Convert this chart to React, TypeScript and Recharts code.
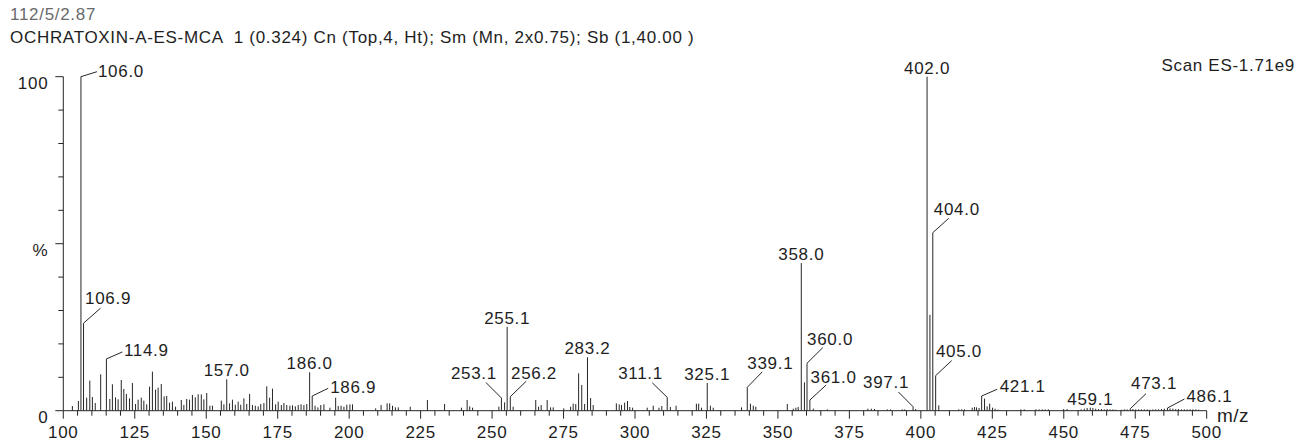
import React from "react";
import { ComposedChart, Bar, XAxis, YAxis } from "recharts";

const FONT = '"Liberation Sans", Arial, Helvetica, sans-serif';
const TEXT_COLOR = "#1e1e1e";
const LINE_COLOR = "#262626";
const FONT_SIZE = 17;
const CAP_HALF = (FONT_SIZE * 0.716) / 2;

// ---- data (m/z, relative intensity %) ----
const mzValues = [
  103.0, 105.1, 106.0, 106.9, 108.0, 109.1, 110.0, 111.0, 112.9, 114.9,
  116.1, 117.0, 118.1, 119.0, 120.1, 121.0, 121.9, 123.0, 124.0, 125.1,
  126.0, 127.1, 128.0, 129.0, 130.0, 131.0, 132.1, 133.0, 134.1, 135.1,
  136.0, 137.0, 138.0, 139.1, 141.1, 142.0, 143.0, 144.0, 145.0, 146.0,
  147.0, 148.1, 149.0, 150.0, 151.1, 152.0, 155.1, 156.0, 157.0, 158.0,
  159.0, 160.0, 161.0, 161.9, 163.0, 164.0, 165.0, 166.0, 167.0, 168.0,
  168.9, 170.0, 171.0, 172.0, 173.0, 174.1, 175.0, 176.1, 177.0, 178.0,
  179.1, 180.0, 181.0, 182.0, 183.0, 184.0, 185.0, 186.0, 186.9, 187.9,
  188.9, 189.9, 191.0, 193.1, 195.1, 196.0, 197.0, 198.0, 199.0, 200.1,
  201.0, 209.1, 211.0, 213.1, 214.0, 215.0, 216.0, 217.0, 221.2, 227.2,
  233.2, 239.1, 241.1, 242.0, 243.0, 252.2, 253.1, 254.2, 255.1, 256.2,
  257.2, 265.1, 266.1, 267.0, 269.1, 270.3, 271.2, 274.9, 277.3, 278.2,
  279.1, 280.1, 281.2, 282.2, 283.2, 284.3, 285.2, 293.3, 294.3, 295.1,
  296.2, 297.2, 298.0, 299.0, 304.1, 306.2, 308.2, 309.2, 311.1, 312.2,
  314.2, 321.3, 322.1, 323.1, 325.1, 326.2, 327.2, 337.1, 339.1, 340.2,
  341.2, 342.1, 353.1, 355.2, 356.1, 356.9, 358.0, 359.1, 360.0, 361.0,
  362.2, 367.1, 381.3, 382.5, 383.6, 388.1, 389.2, 393.3, 394.2, 397.1,
  398.0, 402.0, 403.0, 404.0, 405.0, 406.1, 413.1, 414.1, 415.1, 417.8,
  418.6, 419.3, 420.2, 421.1, 422.1, 423.0, 423.9, 424.9, 425.8, 426.8,
  434.8, 436.0, 440.1, 441.2, 442.3, 443.3, 444.4, 449.8, 451.0, 455.9,
  457.0, 458.0, 459.1, 460.0, 461.0, 462.0, 463.0, 464.0, 465.0, 466.0,
  467.0, 468.0, 470.0, 471.0, 472.0, 473.1, 474.0, 475.0, 476.0, 477.0,
  478.0, 479.0, 480.0, 481.0, 482.0, 483.0, 484.0, 485.0, 486.1, 487.0,
  488.0, 489.0, 490.0, 491.0, 492.0, 493.0, 494.0, 495.0, 496.0, 497.0,
];

const intensities = [
  1.4, 2.9, 100, 26.2, 3.9, 9.0, 4.1, 2.3, 10.9, 15.5,
  3.5, 7.9, 4.0, 3.4, 9.2, 6.5, 5.0, 3.7, 8.3, 2.0,
  3.3, 3.9, 3.0, 1.9, 7.2, 11.7, 6.3, 6.9, 8.0, 4.3,
  4.4, 2.4, 2.7, 1.2, 3.2, 1.7, 3.5, 3.3, 4.7, 4.0,
  4.9, 4.9, 3.4, 5.3, 1.5, 1.5, 3.0, 1.9, 9.4, 2.2,
  3.3, 1.8, 2.7, 1.8, 3.7, 2.0, 5.0, 1.7, 1.5, 1.3,
  2.0, 2.3, 7.3, 3.9, 6.6, 1.9, 2.7, 1.7, 2.3, 1.7,
  1.5, 1.6, 1.3, 1.7, 1.9, 1.7, 2.0, 11.5, 4.4, 1.5,
  1.0, 1.7, 1.9, 0.9, 3.9, 1.4, 1.5, 1.2, 1.8, 1.9,
  1.9, 0.7, 1.7, 2.2, 2.2, 1.5, 1.0, 1.0, 1.2, 3.2,
  2.0, 0.9, 3.2, 1.3, 0.9, 1.2, 3.8, 2.5, 25.1, 4.2,
  1.2, 3.2, 1.2, 1.7, 3.2, 1.0, 1.0, 0.7, 1.2, 2.1,
  2.0, 11.2, 7.7, 2.0, 16.0, 3.8, 1.7, 2.2, 1.9, 1.7,
  2.4, 2.9, 1.1, 0.9, 0.9, 1.5, 0.9, 1.4, 4.0, 1.1,
  1.5, 2.1, 2.1, 0.9, 8.3, 1.5, 0.9, 1.0, 7.0, 2.1,
  1.5, 1.2, 2.0, 0.6, 0.9, 1.1, 44.2, 8.5, 14.2, 3.2,
  0.6, 0.4, 0.6, 0.6, 0.5, 0.4, 0.4, 0.4, 0.4, 1.2,
  0.5, 100, 28.7, 53.3, 10.5, 1.6, 0.4, 0.4, 0.4, 0.9,
  1.1, 1.0, 0.8, 4.4, 3.6, 1.3, 2.1, 0.9, 0.6, 0.3,
  0.4, 0.4, 0.4, 0.4, 0.4, 0.4, 0.4, 0.5, 0.5, 0.4,
  0.6, 0.8, 0.9, 0.8, 0.6, 0.5, 0.5, 0.4, 0.5, 0.4,
  0.4, 0.3, 0.3, 0.4, 0.4, 0.6, 0.5, 0.4, 0.4, 0.4,
  0.4, 0.4, 0.3, 0.4, 0.4, 0.4, 0.5, 0.6, 0.8, 0.7,
  0.6, 0.5, 0.5, 0.4, 0.4, 0.4, 0.4, 0.4, 0.4, 0.3,
];

// labelled peaks
const peakLabelMz = [
  106.0, 106.9, 114.9, 157.0, 186.0, 186.9, 253.1, 255.1, 256.2, 283.2, 311.1, 325.1,
  339.1, 358.0, 360.0, 361.0, 397.1, 402.0, 404.0, 405.0, 421.1, 459.1, 473.1, 486.1,
];
const peakLabelText = [
  "106.0", "106.9", "114.9", "157.0", "186.0", "186.9", "253.1", "255.1", "256.2", "283.2", "311.1", "325.1",
  "339.1", "358.0", "360.0", "361.0", "397.1", "402.0", "404.0", "405.0", "421.1", "459.1", "473.1", "486.1",
];

// axis ticks / texts
const xMajorTicks = [100, 125, 150, 175, 200, 225, 250, 275, 300, 325, 350, 375, 400, 425, 450, 475, 500];
const xMinorStep = 5;
const yTicks = [0, 10, 20, 30, 40, 50, 60, 70, 80, 90, 100];
const yTickLabels: Record<number, string> = { 0: "0", 50: "%", 100: "100" };
const headerLine1 = "112/5/2.87";
const headerLine2 = "OCHRATOXIN-A-ES-MCA  1 (0.324) Cn (Top,4, Ht); Sm (Mn, 2x0.75); Sb (1,40.00 )";
const scanText = "Scan ES-1.71e9";
const unitText = "m/z";

// ---- label layout (style only) ----
type Layout = { lx: number; ly: number; tx: number; ty: number; anchor: "start" | "middle" | "end" };
const UP: Layout = { lx: 0, ly: 0, tx: 0, ty: -3 - CAP_HALF, anchor: "middle" };
const labelLayout: Record<string, Layout> = {
  "106.0": { lx: 16, ly: -5, tx: 17, ty: -6, anchor: "start" },
  "106.9": { lx: 17, ly: -15, tx: 1.5, ty: -25, anchor: "start" },
  "114.9": { lx: 16, ly: -7, tx: 17.5, ty: -9.3, anchor: "start" },
  "157.0": UP,
  "186.0": UP,
  "186.9": { lx: 16, ly: -7.7, tx: 18, ty: -9.3, anchor: "start" },
  "253.1": { lx: -15.5, ly: -15.5, tx: -4.5, ty: -25.5, anchor: "end" },
  "255.1": UP,
  "256.2": { lx: 16, ly: -15.5, tx: 0.7, ty: -24, anchor: "start" },
  "283.2": UP,
  "311.1": { lx: -15, ly: -14.6, tx: -4.3, ty: -24.6, anchor: "end" },
  "325.1": UP,
  "339.1": { lx: 15, ly: -15.5, tx: 0, ty: -24.3, anchor: "start" },
  "358.0": UP,
  "360.0": { lx: 15.7, ly: -15.6, tx: 0, ty: -24.3, anchor: "start" },
  "361.0": { lx: 16.3, ly: -15, tx: 0.7, ty: -23.3, anchor: "start" },
  "397.1": { lx: -14.7, ly: -14.7, tx: -4, ty: -24.7, anchor: "end" },
  "402.0": UP,
  "404.0": { lx: 16, ly: -14.4, tx: 1, ty: -24, anchor: "start" },
  "405.0": { lx: 16, ly: -15, tx: 0.3, ty: -24.7, anchor: "start" },
  "421.1": { lx: 15.4, ly: -6.7, tx: 18, ty: -10, anchor: "start" },
  "459.1": UP,
  "473.1": { lx: 15.7, ly: -15, tx: 0.7, ty: -25.6, anchor: "start" },
  "486.1": { lx: 17, ly: -9, tx: 19, ty: -12, anchor: "start" },
};

const data = mzValues.map((m, i) => ({ mz: m, pct: intensities[i] }));
const xTicks: number[] = [];
for (let t = xMajorTicks[0]; t <= xMajorTicks[xMajorTicks.length - 1]; t += xMinorStep) xTicks.push(t);

const textStyle = { fontFamily: FONT, fontSize: FONT_SIZE, fill: TEXT_COLOR, letterSpacing: 0.7 };

const PeakShape = (props: any) => {
  const { x, y, width, height, payload } = props;
  if (x == null || y == null) return null;
  const cx = x + width / 2;
  const top = y;
  const idx = peakLabelMz.findIndex((m) => Math.abs(m - payload.mz) < 0.001);
  let label = null;
  if (idx >= 0) {
    const text = peakLabelText[idx];
    const L = labelLayout[text];
    label = (
      <g>
        {(L.lx !== 0 || L.ly !== 0) && (
          <line x1={cx} y1={top} x2={cx + L.lx} y2={top + L.ly} stroke={LINE_COLOR} strokeWidth={1} />
        )}
        <text x={cx + L.tx} y={top + L.ty + CAP_HALF} textAnchor={L.anchor} style={textStyle}>
          {text}
        </text>
      </g>
    );
  }
  return (
    <g>
      <line x1={cx} x2={cx} y1={top} y2={top + height} stroke={LINE_COLOR} strokeWidth={1} />
      {label}
    </g>
  );
};

const XTick = (props: any) => {
  const { x, y, payload } = props;
  const v = payload.value;
  const major = xMajorTicks.includes(v);
  return (
    <g>
      <line x1={x} x2={x} y1={y} y2={y + (major ? 8 : 5)} stroke={LINE_COLOR} strokeWidth={1} />
      {major && (
        <text x={x} y={y + 21.5 + CAP_HALF} textAnchor="middle" style={textStyle}>
          {v}
        </text>
      )}
    </g>
  );
};

const YTick = (props: any) => {
  const { x, y, payload } = props;
  const v = payload.value;
  const lbl = yTickLabels[v];
  return (
    <g>
      <line x1={x - (lbl ? 8 : 5)} x2={x} y1={y} y2={y} stroke={LINE_COLOR} strokeWidth={1} />
      {lbl && (
        <text x={x - 15} y={y + 6 + CAP_HALF} textAnchor="end" style={textStyle}>
          {lbl}
        </text>
      )}
    </g>
  );
};

export default function App() {
  return (
    <div style={{ position: "absolute", left: 0, top: 0, width: 1302, height: 442, background: "#fff" }}>
      <ComposedChart
        width={1302}
        height={442}
        data={data}
        margin={{ top: 76.7, right: 95.3, bottom: 6.3, left: 13.3 }}
      >
        <XAxis
          dataKey="mz"
          type="number"
          domain={[100, 500]}
          ticks={xTicks}
          interval={0}
          tickSize={0}
          tickMargin={0}
          tick={<XTick />}
          height={25}
          axisLine={{ stroke: LINE_COLOR, strokeWidth: 1 }}
        />
        <YAxis
          type="number"
          domain={[0, 100]}
          ticks={yTicks}
          interval={0}
          tickSize={0}
          tickMargin={0}
          tick={<YTick />}
          width={50}
          axisLine={{ stroke: LINE_COLOR, strokeWidth: 1 }}
        />
        <Bar dataKey="pct" barSize={1} shape={<PeakShape />} isAnimationActive={false} />
      </ComposedChart>
      <svg width={1302} height={442} style={{ position: "absolute", left: 0, top: 0, pointerEvents: "none" }}>
        <text x={10} y={14 + CAP_HALF} style={{ ...textStyle, fill: "#6a6a6a", whiteSpace: "pre" }}>
          {headerLine1}
        </text>
        <text x={10} y={37 + CAP_HALF} style={{ ...textStyle, whiteSpace: "pre" }}>
          {headerLine2}
        </text>
        <text x={1295} y={65 + CAP_HALF} textAnchor="end" style={textStyle}>
          {scanText}
        </text>
        <text x={1217} y={421.5} style={{ ...textStyle, fontSize: 19, letterSpacing: 0.5 }}>
          {unitText}
        </text>
      </svg>
    </div>
  );
}
